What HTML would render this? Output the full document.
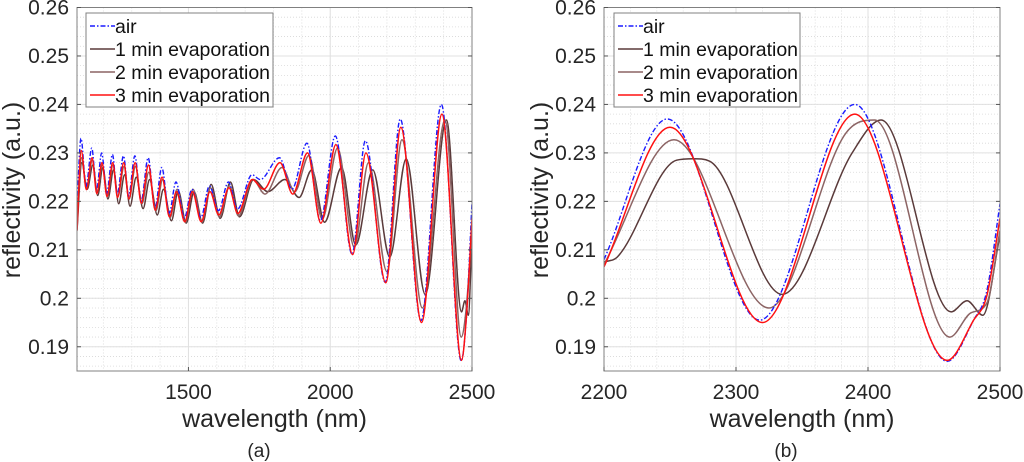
<!DOCTYPE html>
<html><head><meta charset="utf-8">
<style>
html,body{margin:0;padding:0;background:#fff;}
svg{display:block;font-family:"Liberation Sans",Arial,sans-serif;}
</style></head>
<body>
<svg id="chart" width="1024" height="462" viewBox="0 0 1024 462"></svg>
<script>
// ---------- data (panel a) ----------
const aAirX=[1107,1121,1139,1159,1176,1194,1212,1232,1249,1271,1289,1311,1333,1358,1382,1406,1432,1456,1486,1512,1544,1574,1606,1641,1673,1724,1753,1821,1865,1918,1965,2018,2077,2124,2194,2247,2320,2392,2462,2480,2500];
const aAirY=[0.219,0.233,0.2231,0.231,0.2224,0.230,0.2217,0.2297,0.2215,0.2294,0.2211,0.2294,0.2200,0.229,0.2186,0.227,0.2176,0.224,0.2166,0.2225,0.2167,0.2232,0.2181,0.224,0.2184,0.2255,0.2245,0.229,0.2225,0.232,0.216,0.2335,0.2091,0.2325,0.2033,0.237,0.1954,0.240,0.1871,0.196,0.2198];
const a3X=[1107,1122,1140,1160,1177,1195,1213,1233,1250,1272,1290,1312,1334,1359,1383,1407,1433,1458,1487,1514,1545,1576,1607,1643,1674,1725,1765,1823,1868,1920,1967,2020,2079,2126,2196,2249,2322,2394,2463,2480,2500];
const a3Y=[0.214,0.2305,0.2224,0.229,0.2216,0.228,0.221,0.228,0.2208,0.228,0.2205,0.228,0.2196,0.2275,0.2182,0.225,0.2168,0.222,0.2158,0.222,0.2158,0.222,0.2172,0.2228,0.2175,0.2245,0.2225,0.228,0.2215,0.230,0.2155,0.2317,0.209,0.230,0.2032,0.2353,0.195,0.238,0.1872,0.196,0.2165];
const a2X=[1107,1123,1141,1161,1178,1196,1214,1234,1251,1273,1291,1313,1336,1360,1385,1409,1435,1460,1489,1516,1547,1578,1609,1645,1676,1727,1770,1830,1875,1925,1972,2026,2085,2135,2200,2253,2325,2405,2462,2478,2500];
const a2Y=[0.215,0.229,0.2228,0.2285,0.222,0.2275,0.2212,0.2275,0.221,0.2272,0.2205,0.2272,0.2195,0.226,0.218,0.2245,0.2166,0.2225,0.2157,0.2225,0.2158,0.2228,0.2168,0.2232,0.217,0.2245,0.2215,0.227,0.222,0.2295,0.2163,0.231,0.2105,0.228,0.2055,0.2327,0.198,0.2368,0.192,0.197,0.214];
const a1X=[1107,1124,1143,1163,1180,1198,1216,1236,1254,1275,1294,1316,1340,1363,1390,1412,1440,1464,1492,1520,1550,1580,1612,1648,1680,1730,1780,1840,1890,1935,1980,2040,2090,2150,2210,2268,2335,2410,2463,2475,2487,2500];
const a1Y=[0.214,0.228,0.2225,0.2275,0.2212,0.227,0.2205,0.2265,0.2195,0.2255,0.219,0.225,0.2185,0.2245,0.2172,0.2225,0.216,0.2222,0.2155,0.222,0.2155,0.2235,0.2165,0.224,0.2168,0.2245,0.222,0.2245,0.2208,0.2265,0.2157,0.227,0.211,0.2265,0.2085,0.2288,0.2008,0.2368,0.1972,0.1995,0.1965,0.213];
// ---------- data (panel b) ----------
const bAirX=[2200,2248,2318,2390,2460,2480,2490,2500];
const bAirY=[0.208,0.237,0.1955,0.240,0.187,0.1955,0.2015,0.2195];
const b3X=[2200,2250,2320,2390,2460,2480,2490,2500];
const b3Y=[0.2065,0.2353,0.195,0.238,0.1872,0.1955,0.2005,0.2165];
const b2X=[2200,2253,2325,2383,2405,2462,2478,2490,2500];
const b2Y=[0.207,0.2327,0.198,0.234,0.2368,0.192,0.197,0.199,0.214];
const b1X=[2200,2210,2255,2268,2280,2335,2388,2410,2463,2475,2487,2500];
const b1Y=[0.2075,0.2085,0.2285,0.2288,0.2283,0.2008,0.230,0.2368,0.1972,0.1995,0.1965,0.213];
const yTicks=[0.19,0.2,0.21,0.22,0.23,0.24,0.25,0.26];
const yTickLabels=["0.19","0.2","0.21","0.22","0.23","0.24","0.25","0.26"];
const aXTicks=[1500,2000,2500];
const bXTicks=[2200,2300,2400,2500];
const seriesNames=["air","1 min evaporation","2 min evaporation","3 min evaporation"];
const seriesColors=["#1a1aff","#5a3a3a","#8c6464","#ff1010"];

const NS="http://www.w3.org/2000/svg";
const svg=document.getElementById('chart');
function el(tag,attrs,parent){const e=document.createElementNS(NS,tag);for(const k in attrs)e.setAttribute(k,attrs[k]);(parent||svg).appendChild(e);return e;}

function monotone(xs,ys){
  const n=xs.length,d=[],m=[];
  for(let i=0;i<n-1;i++)d.push((ys[i+1]-ys[i])/(xs[i+1]-xs[i]));
  m[0]=d[0];m[n-1]=d[n-2];
  for(let i=1;i<n-1;i++){m[i]=(d[i-1]*d[i]<=0)?0:(d[i-1]+d[i])/2;}
  for(let i=0;i<n-1;i++){if(d[i]===0){m[i]=0;m[i+1]=0;continue;}
    const a=m[i]/d[i],b=m[i+1]/d[i],s=a*a+b*b;if(s>9){const t=3/Math.sqrt(s);m[i]=t*a*d[i];m[i+1]=t*b*d[i];}}
  return m;
}
function pathFor(xs,ys,sx,sy){
  const m=monotone(xs,ys);let p="M"+sx(xs[0]).toFixed(2)+","+sy(ys[0]).toFixed(2);
  for(let i=0;i<xs.length-1;i++){const h=xs[i+1]-xs[i];
    p+=" C"+sx(xs[i]+h/3).toFixed(2)+","+sy(ys[i]+m[i]*h/3).toFixed(2)+" "+sx(xs[i+1]-h/3).toFixed(2)+","+sy(ys[i+1]-m[i+1]*h/3).toFixed(2)+" "+sx(xs[i+1]).toFixed(2)+","+sy(ys[i+1]).toFixed(2);}
  return p;
}

function panel(o){
  const g=el('g',{});
  
  
  const sx=v=>o.x0+(v-o.xmin)/(o.xmax-o.xmin)*(o.x1-o.x0);
  const sy=v=>o.y1-(v-0.185)/(0.26-0.185)*(o.y1-o.y0);
  for(let v=0.186;v<0.2595;v+=0.002){const y=sy(v);
    el('line',{x1:o.x0,x2:o.x1,y1:y,y2:y,stroke:'#d8d8d8','stroke-width':0.8,'stroke-dasharray':'1,2'},g);}
  for(let v=Math.ceil(o.xmin/o.minor)*o.minor;v<o.xmax;v+=o.minor){const x=sx(v);
    el('line',{x1:x,x2:x,y1:o.y0,y2:o.y1,stroke:'#d8d8d8','stroke-width':0.8,'stroke-dasharray':'1,2'},g);}
  yTicks.forEach(v=>{const y=sy(v);el('line',{x1:o.x0,x2:o.x1,y1:y,y2:y,stroke:'#e0e0e0','stroke-width':1},g);});
  o.xticks.forEach(v=>{const x=sx(v);el('line',{x1:x,x2:x,y1:o.y0,y2:o.y1,stroke:'#e0e0e0','stroke-width':1},g);});
  const clip=el('clipPath',{id:o.name+'-clip'},g);
  el('rect',{x:o.x0,y:o.y0,width:o.x1-o.x0,height:o.y1-o.y0},clip);
  const order=[1,2,0,3];
  order.forEach(i=>{
    const p=el('path',{d:pathFor(o.xs[i],o.ys[i],sx,sy),fill:'none',stroke:seriesColors[i],'stroke-width':i===0?1.4:1.5,'clip-path':'url(#'+o.name+'-clip)'},g);
    if(i===0)p.setAttribute('stroke-dasharray','5,2,1.5,2');
    
    
  });
  const box=el('rect',{x:o.x0,y:o.y0,width:o.x1-o.x0,height:o.y1-o.y0,fill:'none',stroke:'#808080','stroke-width':1},g);
  
  
  yTicks.forEach((v,i)=>{const y=sy(v);
    el('line',{x1:o.x0,x2:o.x0+4,y1:y,y2:y,stroke:'#555'},g);
    el('line',{x1:o.x1,x2:o.x1-4,y1:y,y2:y,stroke:'#555'},g);
    const t=el('text',{x:o.x0-8,y:y+7,'text-anchor':'end','font-size':21,fill:'#262626'},g);
    t.textContent=yTickLabels[i];
    
    
  });
  o.xticks.forEach(v=>{const x=sx(v);
    el('line',{x1:x,x2:x,y1:o.y1,y2:o.y1-4,stroke:'#555'},g);
    const t=el('text',{x:x,y:399,'text-anchor':'middle','font-size':21,fill:'#262626'},g);
    t.textContent=String(v);
    
    
  });
  const xl=el('text',{x:(o.x0+o.x1)/2,y:427,'text-anchor':'middle','font-size':25,fill:'#262626'},g);
  xl.textContent='wavelength (nm)';
  
  
  const yl=el('text',{x:0,y:0,'text-anchor':'middle','font-size':25,fill:'#262626',transform:'translate('+(o.ylabx)+',190) rotate(-90)'},g);
  yl.textContent='reflectivity (a.u.)';
  
  
  const cap=el('text',{x:o.capx,y:457,'text-anchor':'middle','font-size':19,fill:'#262626'},g);
  cap.textContent=o.cap;
  
  
  const lg=el('g',{},g);
  
  
  el('rect',{x:o.lx,y:13,width:o.lw,height:94,fill:'#fff',stroke:'#808080','stroke-width':1},lg);
  seriesNames.forEach((n,i)=>{const y=26+i*23;
    const ln=el('line',{x1:o.lx+4,x2:o.lx+29,y1:y,y2:y,stroke:seriesColors[i],'stroke-width':1.5},lg);
    if(i===0)ln.setAttribute('stroke-dasharray','5,2,1.5,2');
    const t=el('text',{x:o.lx+29,y:y+7,'font-size':19.5,fill:'#111'},lg);
    t.textContent=n;
    
    
  });
}
panel({name:'panel-a',x0:77,x1:472,y0:7.5,y1:371,xmin:1107,xmax:2500,minor:100,xticks:aXTicks,
  xs:[aAirX,a1X,a2X,a3X],ys:[aAirY,a1Y,a2Y,a3Y],ylabx:20,capx:259,cap:'(a)',lx:86,lw:187});
panel({name:'panel-b',x0:604,x1:1000,y0:7.5,y1:371,xmin:2200,xmax:2500,minor:20,xticks:bXTicks,
  xs:[bAirX,b1X,b2X,b3X],ys:[bAirY,b1Y,b2Y,b3Y],ylabx:548,capx:786,cap:'(b)',lx:614,lw:186});
</script>
</body></html>
